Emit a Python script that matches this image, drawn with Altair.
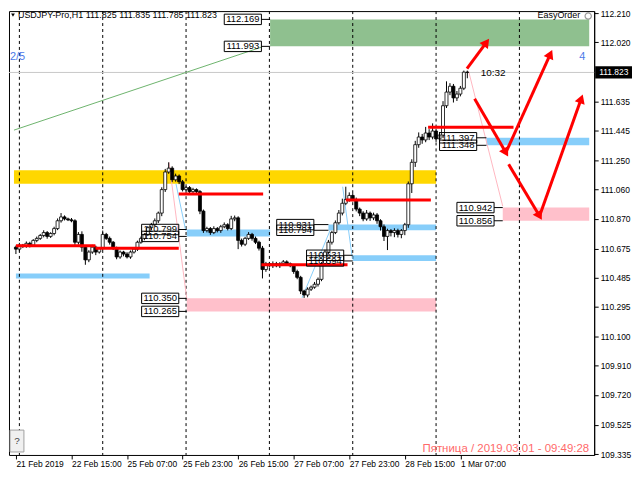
import altair as alt
import pandas as pd

FONT = "Liberation Sans"

# ---------------- data ----------------
first_open = 110.684
close = [
    110.671, 110.697, 110.690, 110.709, 110.697, 110.728, 110.741, 110.760, 110.779, 110.754,
    110.773, 110.805, 110.856, 110.881, 110.868, 110.862, 110.856, 110.716, 110.767, 110.684,
    110.601, 110.652, 110.684, 110.652, 110.677, 110.767, 110.741, 110.716, 110.677, 110.620,
    110.652, 110.639, 110.620, 110.652, 110.671, 110.716, 110.741, 110.767, 110.811, 110.830,
    110.856, 110.906, 111.059, 111.174, 111.199, 111.123, 111.148, 111.110, 111.059, 111.072,
    111.046, 111.059, 111.046, 110.919, 110.792, 110.805, 110.779, 110.805, 110.792, 110.817,
    110.830, 110.805, 110.868, 110.875, 110.728, 110.703, 110.741, 110.767, 110.741, 110.716,
    110.677, 110.538, 110.576, 110.563, 110.576, 110.563, 110.576, 110.588, 110.576, 110.563,
    110.525, 110.487, 110.398, 110.372, 110.410, 110.423, 110.442, 110.474, 110.576, 110.652,
    110.716, 110.779, 110.843, 110.906, 110.970, 110.995, 111.021, 110.995, 110.932, 110.906,
    110.868, 110.906, 110.875, 110.894, 110.856, 110.817, 110.754, 110.792, 110.779, 110.792,
    110.767, 110.792, 110.830, 111.097, 111.237, 111.352, 111.402, 111.383, 111.428, 111.402,
    111.441, 111.390, 111.415, 111.606, 111.695, 111.733, 111.657, 111.682, 111.720, 111.825,
    111.823,
]
wick_up = [
    0.010, 0.015, 0.008, 0.012, 0.010, 0.008, 0.012, 0.010, 0.015, 0.010,
    0.008, 0.012, 0.015, 0.025, 0.010, 0.008, 0.012, 0.010, 0.015, 0.020,
    0.010, 0.012, 0.015, 0.010, 0.008, 0.025, 0.010, 0.012, 0.008, 0.010,
    0.010, 0.008, 0.012, 0.010, 0.008, 0.010, 0.012, 0.008, 0.010, 0.012,
    0.015, 0.010, 0.015, 0.020, 0.038, 0.012, 0.015, 0.010, 0.012, 0.010,
    0.010, 0.012, 0.008, 0.010, 0.010, 0.012, 0.010, 0.015, 0.010, 0.012,
    0.015, 0.010, 0.020, 0.015, 0.010, 0.012, 0.010, 0.015, 0.010, 0.012,
    0.010, 0.015, 0.012, 0.010, 0.015, 0.012, 0.010, 0.012, 0.010, 0.008,
    0.010, 0.012, 0.010, 0.008, 0.012, 0.010, 0.015, 0.012, 0.010, 0.015,
    0.015, 0.012, 0.015, 0.020, 0.030, 0.083, 0.020, 0.015, 0.012, 0.010,
    0.012, 0.020, 0.010, 0.015, 0.012, 0.010, 0.015, 0.012, 0.010, 0.015,
    0.012, 0.010, 0.012, 0.015, 0.020, 0.025, 0.030, 0.020, 0.040, 0.025,
    0.050, 0.015, 0.020, 0.030, 0.070, 0.020, 0.015, 0.020, 0.015, 0.010,
    0.010,
]
wick_dn = [
    0.032, 0.015, 0.012, 0.010, 0.015, 0.010, 0.012, 0.010, 0.012, 0.015,
    0.010, 0.012, 0.010, 0.012, 0.010, 0.008, 0.010, 0.020, 0.015, 0.030,
    0.032, 0.015, 0.012, 0.020, 0.010, 0.012, 0.010, 0.015, 0.012, 0.015,
    0.012, 0.015, 0.010, 0.012, 0.010, 0.012, 0.010, 0.012, 0.010, 0.015,
    0.012, 0.015, 0.020, 0.015, 0.012, 0.015, 0.012, 0.015, 0.012, 0.010,
    0.012, 0.010, 0.015, 0.020, 0.015, 0.012, 0.015, 0.010, 0.012, 0.015,
    0.010, 0.012, 0.010, 0.015, 0.057, 0.015, 0.012, 0.010, 0.015, 0.012,
    0.015, 0.058, 0.015, 0.012, 0.015, 0.010, 0.015, 0.012, 0.015, 0.010,
    0.015, 0.012, 0.020, 0.019, 0.015, 0.012, 0.010, 0.015, 0.012, 0.015,
    0.012, 0.015, 0.010, 0.012, 0.015, 0.012, 0.015, 0.012, 0.015, 0.020,
    0.015, 0.012, 0.020, 0.015, 0.020, 0.025, 0.030, 0.089, 0.025, 0.030,
    0.020, 0.025, 0.030, 0.020, 0.060, 0.030, 0.020, 0.025, 0.015, 0.020,
    0.015, 0.020, 0.025, 0.020, 0.015, 0.020, 0.030, 0.020, 0.015, 0.012,
    0.038,
]

x_tick_pos = [0, 16, 32, 48, 64, 80, 96, 112, 128]
x_tick_labels = ["21 Feb 2019", "22 Feb 15:00", "25 Feb 07:00", "25 Feb 23:00",
                 "26 Feb 15:00", "27 Feb 07:00", "27 Feb 23:00", "28 Feb 15:00", "1 Mar 07:00"]
y_ticks = [112.210, 112.020, 111.635, 111.445, 111.250, 111.060, 110.870, 110.675,
           110.485, 110.295, 110.100, 109.910, 109.720, 109.525, 109.335]
day_separators = [1, 25, 49, 73, 97, 121, 145]
current_price = 111.823

# zones: x1, x2 (bar index), p1, p2, colour
zone_x1 = [73.2, -0.56, 0, 49.2, 90, 97, 135.5, 49.2, 140.2]
zone_x2 = [165.1, 121, 38.5, 73.2, 121, 121, 165.1, 121, 165.1]
zone_p1 = [112.169, 111.186, 110.512, 110.799, 110.831, 110.631, 111.397, 110.350, 110.942]
zone_p2 = [111.993, 111.097, 110.480, 110.754, 110.794, 110.594, 111.348, 110.265, 110.856]
zone_col = ["#8FC08F", "#FFD700", "#87CEFA", "#87CEFA", "#87CEFA", "#87CEFA", "#87CEFA",
            "#FFC0CB", "#FFC0CB"]

# red levels
red_p = [110.693, 110.677, 111.030, 110.569, 110.992, 111.466]
red_x1 = [0, 22.9, 46.9, 70.7, 95.0, 118.7]
red_x2 = [22.9, 46.9, 71.2, 95.5, 119.5, 143.3]

# price label boxes
lab_text = ["112.169", "111.993", "110.350", "110.265", "110.942", "110.856",
            "111.397", "111.348", "110.799", "110.754", "110.831", "110.794",
            "110.631", "110.594"]
lab_p = [112.169, 111.993, 110.350, 110.265, 110.942, 110.856,
         111.397, 111.348, 110.799, 110.754, 110.831, 110.794, 110.631, 110.594]
lab_right = [70.7, 70.7, 46.9, 46.9, 137.7, 137.7, 132.7, 132.7, 46.9, 46.9,
             85.8, 85.8, 94.4, 94.4]
lab_zone = [73.2, 73.2, 49.2, 49.2, 140.2, 140.2, 135.5, 135.5, 49.2, 49.2,
            90, 90, 97, 97]

# thin trend lines
thin_x1 = [-0.56, 44.1, 46.1, 82.4, 94.1, 130.4]
thin_p1 = [111.447, 111.237, 111.097, 110.353, 111.078, 111.829]
thin_x2 = [70.7, 49.2, 48.9, 90.8, 96.9, 140.2]
thin_p2 = [111.988, 110.347, 110.792, 110.811, 110.608, 110.951]
thin_col = ["#6DB36D", "#FFB6C1", "#87CEFA", "#87CEFA", "#87CEFA", "#FFB6C1"]

# red arrows
arr_x1 = [129.9, 132.1, 141.1, 141.9, 150.8]
arr_p1 = [111.848, 111.651, 111.301, 111.224, 110.887]
arr_x2 = [135.5, 141.1, 153.9, 150.8, 162.8]
arr_p2 = [112.019, 111.301, 111.943, 110.887, 111.651]
arr_angle = [36.5, 149.8, 24.5, 148.9, 19.7]

# ---------------- build ----------------
W, H = 588, 446
xs = alt.Scale(domain=[-0.56, 165.1], nice=False, zero=False)
ys = alt.Scale(domain=[109.329, 112.223], nice=False, zero=False)

opens = [first_open] + close[:-1]
candles = pd.DataFrame({
    "i": list(range(len(close))),
    "o": opens,
    "c": close,
    "h": [max(o, c) + u for o, c, u in zip(opens, close, wick_up)],
    "l": [min(o, c) - d for o, c, d in zip(opens, close, wick_dn)],
})

label_expr = "[" + ",".join("'%s'" % t for t in x_tick_labels) + "][round(datum.value/16)]"
XA = alt.Axis(values=x_tick_pos, labelExpr=label_expr, labelAlign="left",
              labelFont=FONT, labelFontSize=8.5, labelColor="black",
              tickColor="black", tickSize=4, domain=False, grid=False, title=None,
              labelPadding=1, labelFlush=False, labelOverlap=False)
YA = alt.Axis(orient="right", values=y_ticks, format=".3f", labelFont=FONT,
              labelFontSize=8.5, labelColor="black", tickColor="black", tickSize=4,
              domainColor="black", grid=False, title=None, labelPadding=2,
              labelOverlap=False, labelFlush=False, labelBaseline="middle")


def X(f):
    return alt.X(f, scale=xs, axis=XA)


def Y(f):
    return alt.Y(f, scale=ys, axis=YA)


zones = pd.DataFrame({"x1": zone_x1, "x2": zone_x2, "p1": zone_p1, "p2": zone_p2, "col": zone_col})
zone_layer = alt.Chart(zones).mark_rect().encode(
    x=X("x1:Q"), x2="x2:Q", y=Y("p1:Q"), y2="p2:Q",
    color=alt.Color("col:N", scale=None))

sep_layer = alt.Chart(pd.DataFrame({"s": day_separators})).mark_rule(
    color="black", strokeDash=[3, 3], strokeWidth=1).encode(x=X("s:Q"))

price_line = alt.Chart(pd.DataFrame({"p": [current_price]})).mark_rule(
    color="#C8C8C8", strokeWidth=1).encode(y=Y("p:Q"))

thin = pd.DataFrame({"x1": thin_x1, "x2": thin_x2, "p1": thin_p1, "p2": thin_p2, "col": thin_col})
thin_layer = alt.Chart(thin).mark_rule(strokeWidth=1).encode(
    x=X("x1:Q"), x2="x2:Q", y=Y("p1:Q"), y2="p2:Q",
    color=alt.Color("col:N", scale=None))

wick_layer = alt.Chart(candles).mark_rule(color="black", strokeWidth=1).encode(
    x=X("i:Q"), y=Y("l:Q"), y2="h:Q")

body_layer = alt.Chart(candles).mark_bar(size=3, stroke="black", strokeWidth=0.8).encode(
    x=X("i:Q"), y=Y("o:Q"), y2="c:Q",
    fill=alt.condition("datum.c >= datum.o", alt.value("white"), alt.value("black")))

reds = pd.DataFrame({"x1": red_x1, "x2": red_x2, "p": red_p})
red_layer = alt.Chart(reds).mark_rule(color="#FF0000", strokeWidth=3).encode(
    x=X("x1:Q"), x2="x2:Q", y=Y("p:Q"))

BOX_W = 10.7
BOX_H = 0.034
labs = pd.DataFrame({"t": lab_text, "p": lab_p, "xr": lab_right, "xz": lab_zone})
labs["xl"] = labs["xr"] - BOX_W
labs["xm"] = labs["xr"] - BOX_W / 2
labs["ptop"] = labs["p"] + BOX_H
labs["pbot"] = labs["p"] - BOX_H
conn_layer = alt.Chart(labs).mark_rule(color="black", strokeWidth=1).encode(
    x=X("xr:Q"), x2="xz:Q", y=Y("p:Q"))
box_layer = alt.Chart(labs).mark_rect(fillOpacity=0, stroke="black", strokeWidth=1).encode(
    x=X("xl:Q"), x2="xr:Q", y=Y("ptop:Q"), y2="pbot:Q")
lab_text_layer = alt.Chart(labs).mark_text(font=FONT, fontSize=9.5, color="black",
                                           baseline="middle", align="center").encode(
    x=X("xm:Q"), y=Y("p:Q"), text="t:N")

arrows = pd.DataFrame({"x1": arr_x1, "x2": arr_x2, "p1": arr_p1, "p2": arr_p2, "ang": arr_angle})
arrow_layer = alt.Chart(arrows).mark_rule(color="#FF0000", strokeWidth=3).encode(
    x=X("x1:Q"), x2="x2:Q", y=Y("p1:Q"), y2="p2:Q")
head_layer = alt.Chart(arrows).mark_point(shape="triangle-up", filled=True, size=110,
                                          color="#FF0000", opacity=1).encode(
    x=X("x2:Q"), y=Y("p2:Q"), angle=alt.Angle("ang:Q", scale=None))

# current price tag on the price axis
cp = pd.DataFrame({"p": [current_price], "t": ["%.3f" % current_price]})
cp["ptop"] = cp["p"] + 0.04
cp["pbot"] = cp["p"] - 0.04
cp_box = alt.Chart(cp).mark_rect(color="black").encode(
    x=alt.value(W + 1), x2=alt.value(W + 38), y=Y("ptop:Q"), y2="pbot:Q")
cp_text = alt.Chart(cp).mark_text(font=FONT, fontSize=8.5, color="white", align="left",
                                  baseline="middle").encode(
    x=alt.value(W + 5), y=Y("p:Q"), text="t:N")


def px_text(txt, x, y, align="left", baseline="top", size=9, color="black"):
    return alt.Chart(pd.DataFrame({"t": [txt]})).mark_text(
        font=FONT, fontSize=size, color=color, align=align, baseline=baseline).encode(
        x=alt.value(x), y=alt.value(y), text="t:N")


header = px_text("USDJPY-Pro,H1  111.825 111.835 111.785 111.823", 9, 0, size=9)
header_tri = alt.Chart(pd.DataFrame({"a": [0]})).mark_point(
    shape="triangle-down", filled=True, size=14, color="black", opacity=1).encode(
    x=alt.value(4), y=alt.value(4))
t25 = px_text("2/5", 1, 40, size=11, color="#4B79E8")
t4 = px_text("4", 579, 40, align="right", size=11, color="#4B79E8")
easy = px_text("EasyOrder", 574, 0, align="right", size=9)
smile = alt.Chart(pd.DataFrame({"a": [0]})).mark_point(
    shape="circle", size=40, color="#707070", strokeWidth=1.2).encode(
    x=alt.value(582), y=alt.value(5))
timer = px_text("10:32", 474, 57, size=10)
qbox = alt.Chart(pd.DataFrame({"a": [0]})).mark_rect(
    fill="#F0F0F0", stroke="#A0A0A0", strokeWidth=1).encode(
    x=alt.value(1), x2=alt.value(15), y=alt.value(421), y2=alt.value(443))
qtext = px_text("?", 8, 432, align="center", baseline="middle", size=10, color="#404040")
stamp = px_text("Пятница  /  2019.03.01  -  09:49:28", 583, 445, align="right",
                baseline="bottom", size=11.5, color="#FF6A6A")

chart = alt.layer(
    zone_layer, sep_layer, price_line, thin_layer, wick_layer, body_layer, red_layer,
    conn_layer, box_layer, lab_text_layer, arrow_layer, head_layer, cp_box, cp_text,
    header, header_tri, t25, t4, easy, smile, timer, qbox, qtext, stamp,
).properties(
    width=W, height=H, background="white",
    padding={"left": 0, "top": 0, "right": 0, "bottom": 0},
).configure_view(stroke="black", strokeWidth=1)

chart.save("out.html", embed_options={"renderer": "svg", "actions": False})
